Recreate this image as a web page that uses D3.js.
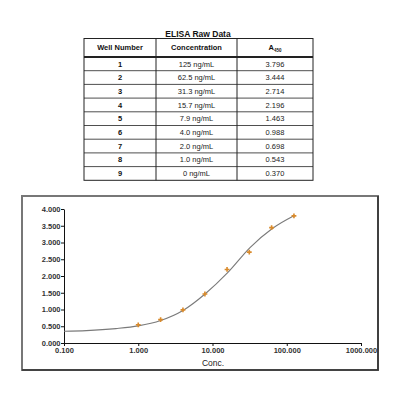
<!DOCTYPE html>
<html lang="en">
<head>
<meta charset="utf-8">
<title>ELISA Raw Data</title>
<script src="https://d3js.org/d3.v7.min.js"></script>
<style>
  body { margin: 0; background: #fff; }
  text { font-family: "Liberation Sans", Arial, sans-serif; }
</style>
</head>
<body>
<script>
// table data
var wells = ["1", "2", "3", "4", "5", "6", "7", "8", "9"];
var concLabels = ["125 ng/mL", "62.5 ng/mL", "31.3 ng/mL", "15.7 ng/mL", "7.9 ng/mL",
                  "4.0 ng/mL", "2.0 ng/mL", "1.0 ng/mL", "0 ng/mL"];
var concValues = [125, 62.5, 31.3, 15.7, 7.9, 4.0, 2.0, 1.0, 0];
var a450 = [3.796, 3.444, 2.714, 2.196, 1.463, 0.988, 0.698, 0.543, 0.370];

// fitted curve
var fitConc = [0.1, 0.2, 0.5, 1, 2, 4, 8, 16, 32, 64, 125];
var fitA450 = [0.35, 0.37, 0.43, 0.51, 0.67, 0.97, 1.47, 2.10, 2.85, 3.42, 3.80];

// axis ticks
var xTicks = [0.1, 1, 10, 100, 1000];
var yTicks = [0, 0.5, 1, 1.5, 2, 2.5, 3, 3.5, 4];

var w = 400, h = 400;

var svg = d3.select("body").append("svg")
    .attr("width", w)
    .attr("height", h);

// ---- table ----
var tx = [84, 156, 237, 313];
var tTop = 38.5, headH = 18.5, rowH = 13.7;
var tBottom = tTop + headH + rowH * wells.length;

svg.append("text")
    .attr("x", 198).attr("y", 36.5)
    .attr("text-anchor", "middle")
    .attr("font-size", 8.5).attr("font-weight", "bold")
    .attr("fill", "#111")
    .text("ELISA Raw Data");

var table = svg.append("g");

table.append("rect")
    .attr("x", tx[0]).attr("y", tTop)
    .attr("width", tx[3] - tx[0]).attr("height", tBottom - tTop)
    .attr("fill", "none").attr("stroke", "#222").attr("stroke-width", 1);

table.selectAll("line.col")
    .data([tx[1], tx[2]])
    .enter().append("line")
    .attr("x1", d => d).attr("x2", d => d)
    .attr("y1", tTop).attr("y2", tBottom)
    .attr("stroke", "#222").attr("stroke-width", 1);

table.append("line")
    .attr("x1", tx[0]).attr("x2", tx[3])
    .attr("y1", tTop + headH).attr("y2", tTop + headH)
    .attr("stroke", "#222").attr("stroke-width", 1.8);

table.selectAll("line.row")
    .data(wells.slice(1))
    .enter().append("line")
    .attr("x1", tx[0]).attr("x2", tx[3])
    .attr("y1", (d, i) => tTop + headH + rowH * (i + 1))
    .attr("y2", (d, i) => tTop + headH + rowH * (i + 1))
    .attr("stroke", "#222").attr("stroke-width", 0.8);

var colMid = [(tx[0] + tx[1]) / 2, (tx[1] + tx[2]) / 2, (tx[2] + tx[3]) / 2];

table.selectAll("text.head")
    .data(["Well Number", "Concentration"])
    .enter().append("text")
    .attr("x", (d, i) => colMid[i])
    .attr("y", tTop + headH / 2 + 2.7)
    .attr("text-anchor", "middle")
    .attr("font-size", 7.5).attr("font-weight", "bold")
    .attr("fill", "#111")
    .text(d => d);

var aHead = table.append("text")
    .attr("x", colMid[2])
    .attr("y", tTop + headH / 2 + 2.7)
    .attr("text-anchor", "middle")
    .attr("font-size", 7.5).attr("font-weight", "bold")
    .attr("fill", "#111");
aHead.append("tspan").text("A");
aHead.append("tspan").attr("font-size", 4.5).attr("dy", 1.5).text("450");

var rows = table.selectAll("g.row")
    .data(wells)
    .enter().append("g")
    .attr("transform", (d, i) => "translate(0," + (tTop + headH + rowH * i + rowH / 2 + 2.7) + ")");

rows.append("text")
    .attr("x", colMid[0]).attr("text-anchor", "middle")
    .attr("font-size", 7.5).attr("font-weight", "bold").attr("fill", "#111")
    .text(d => d);

rows.append("text")
    .attr("x", colMid[1]).attr("text-anchor", "middle")
    .attr("font-size", 7.5).attr("fill", "#222")
    .text((d, i) => concLabels[i]);

rows.append("text")
    .attr("x", colMid[2]).attr("text-anchor", "middle")
    .attr("font-size", 7.5).attr("fill", "#222")
    .text((d, i) => a450[i].toFixed(3));

// ---- chart ----
// frame: lighter top/left, darker right/bottom
svg.append("rect")
    .attr("x", 22).attr("y", 196)
    .attr("width", 356).attr("height", 174)
    .attr("fill", "#fff").attr("stroke", "#777").attr("stroke-width", 2);
svg.append("path")
    .attr("d", "M378,196V370H22")
    .attr("fill", "none").attr("stroke", "#333").attr("stroke-width", 1.6);

var x = d3.scaleLog().domain([0.1, 1000]).range([64, 361]);
var y = d3.scaleLinear().domain([0, 4]).range([343, 209]);

var fmt = d3.format(".3f");

var xAxis = svg.append("g")
    .attr("transform", "translate(0,343)")
    .call(d3.axisBottom(x).tickValues(xTicks).tickFormat(fmt).tickSize(3).tickSizeOuter(0));

var yAxis = svg.append("g")
    .attr("transform", "translate(64,0)")
    .call(d3.axisLeft(y).tickValues(yTicks).tickFormat(fmt).tickSize(3).tickSizeOuter(0));

[xAxis, yAxis].forEach(function(a) {
    a.select(".domain").attr("stroke", "#111").attr("stroke-width", 1);
    a.selectAll(".tick line").attr("stroke", "#111");
    a.selectAll(".tick text")
        .attr("font-family", "Liberation Sans, Arial, sans-serif")
        .attr("font-size", 7.5).attr("font-weight", "bold").attr("fill", "#333");
});
xAxis.selectAll(".tick text").attr("dy", "0.9em").attr("y", 3);
yAxis.selectAll(".tick text").attr("x", -3.5);

svg.append("text")
    .attr("x", 213).attr("y", 366)
    .attr("text-anchor", "middle")
    .attr("font-size", 8.5).attr("fill", "#222")
    .text("Conc.");

var line = d3.line()
    .x((d, i) => x(fitConc[i]))
    .y(d => y(d))
    .curve(d3.curveMonotoneX);

svg.append("path")
    .datum(fitA450)
    .attr("d", line)
    .attr("fill", "none")
    .attr("stroke", "#7a7a7a")
    .attr("stroke-width", 1.1);

var pts = concValues.map((c, i) => ({c: c, a: a450[i]})).filter(d => d.c > 0);

svg.selectAll("path.pt")
    .data(pts)
    .enter().append("path")
    .attr("class", "pt")
    .attr("transform", d => "translate(" + x(d.c) + "," + y(d.a) + ")")
    .attr("d", d3.symbol().type(d3.symbolCross).size(13))
    .attr("fill", "#d98a2b");
</script>
</body>
</html>
